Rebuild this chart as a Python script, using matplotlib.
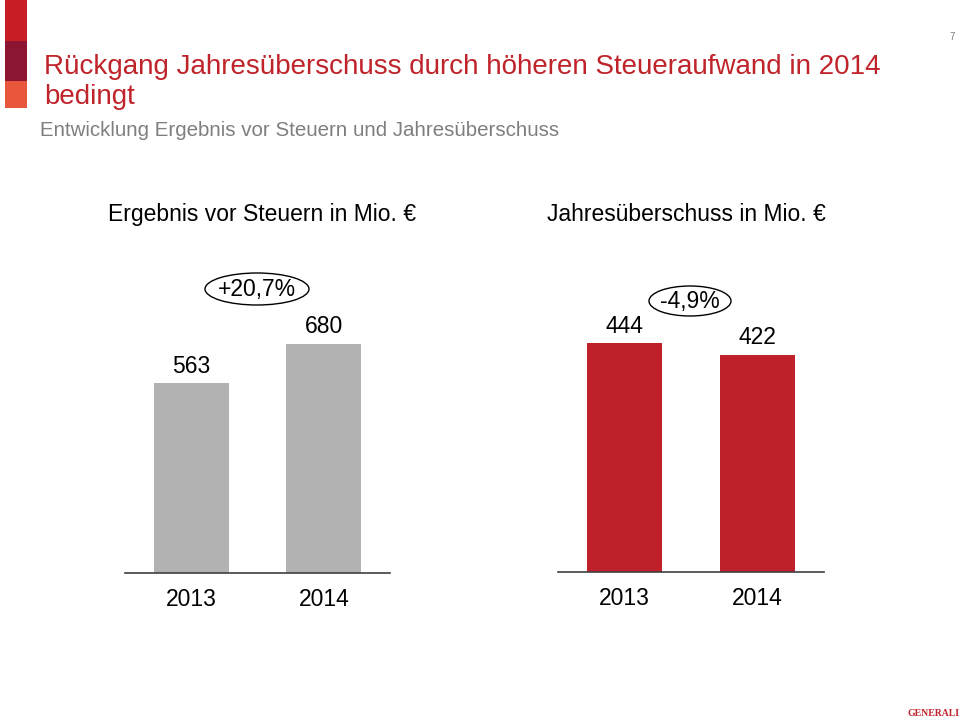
import matplotlib
matplotlib.use('Agg')
import matplotlib.pyplot as plt
from matplotlib.patches import Ellipse, Rectangle

plt.rcParams['font.family'] = ['Liberation Sans', 'DejaVu Sans']

# Daten
years = ['2013', '2014']
ebt = [563, 680]          # Ergebnis vor Steuern
net = [444, 422]          # Jahresüberschuss
ebt_change = '+20,7%'
net_change = '-4,9%'

W, H = 959, 725
FS = 16.5
fig = plt.figure(figsize=(W / 100, H / 100), dpi=100)

# Hintergrund-Achse in Pixelkoordinaten
bg = fig.add_axes([0, 0, 1, 1])
bg.set_xlim(0, W)
bg.set_ylim(H, 0)
bg.axis('off')

# farbige Blöcke oben links
bg.add_patch(Rectangle((5, 0), 22, 41, color='#c81d25', lw=0))
bg.add_patch(Rectangle((5, 41), 22, 40, color='#8c1532', lw=0))
bg.add_patch(Rectangle((5, 81), 22, 27, color='#e8573c', lw=0))

bg.text(44, 67, 'Rückgang Jahresüberschuss durch höheren Steueraufwand in 2014',
        color='#c0242b', fontsize=20, va='center', ha='left')
bg.text(44, 97, 'bedingt', color='#c0242b', fontsize=20, va='center', ha='left')
bg.text(40, 130, 'Entwicklung Ergebnis vor Steuern und Jahresüberschuss',
        color='#7f7f7f', fontsize=14.8, va='center', ha='left')
bg.text(955, 37, '7', color='#7f7f7f', fontsize=7, va='center', ha='right')

bg.text(262, 214, 'Ergebnis vor Steuern in Mio. €', fontsize=FS, va='center', ha='center')
bg.text(686, 214, 'Jahresüberschuss in Mio. €', fontsize=FS, va='center', ha='center')

# Veränderungs-Ellipsen
bg.add_patch(Ellipse((257, 289), 104, 32, fill=False, ec='black', lw=1))
bg.text(257, 289, ebt_change, fontsize=FS, va='center', ha='center')
bg.add_patch(Ellipse((690, 301), 82, 30, fill=False, ec='black', lw=1))
bg.text(690, 301, net_change, fontsize=FS, va='center', ha='center')

# Logo
bg.text(933, 714, 'GENERALI', color='#c0242b', fontsize=7, family='Liberation Serif',
        fontweight='bold', va='center', ha='center')


def bar_panel(rect, values, color, ymax):
    ax = fig.add_axes(rect)
    ax.patch.set_alpha(0)
    x = range(len(values))
    ax.bar(x, values, width=0.566, color=color)
    ax.set_xlim(-0.5, 1.5)
    ax.set_ylim(0, ymax)
    for s in ['top', 'right', 'left']:
        ax.spines[s].set_visible(False)
    ax.spines['bottom'].set_color('#404040')
    ax.spines['bottom'].set_linewidth(1.2)
    ax.set_yticks([])
    ax.set_xticks(list(x))
    ax.set_xticklabels(years, fontsize=FS)
    ax.tick_params(axis='x', length=0, pad=11)
    for i, v in enumerate(values):
        ax.annotate(str(v), (i, v), xytext=(0, 4), textcoords='offset points',
                    ha='center', va='bottom', fontsize=FS)
    return ax


base_l = 1 - 573 / H
base_r = 1 - 572 / H
h = 0.4
bar_panel([125 / W, base_l, 265 / W, h], ebt, '#b2b2b3', h * H / 0.337)
bar_panel([558 / W, base_r, 266 / W, h], net, '#c0202a', h * H / 0.515)

fig.savefig('out.png', dpi=100)
